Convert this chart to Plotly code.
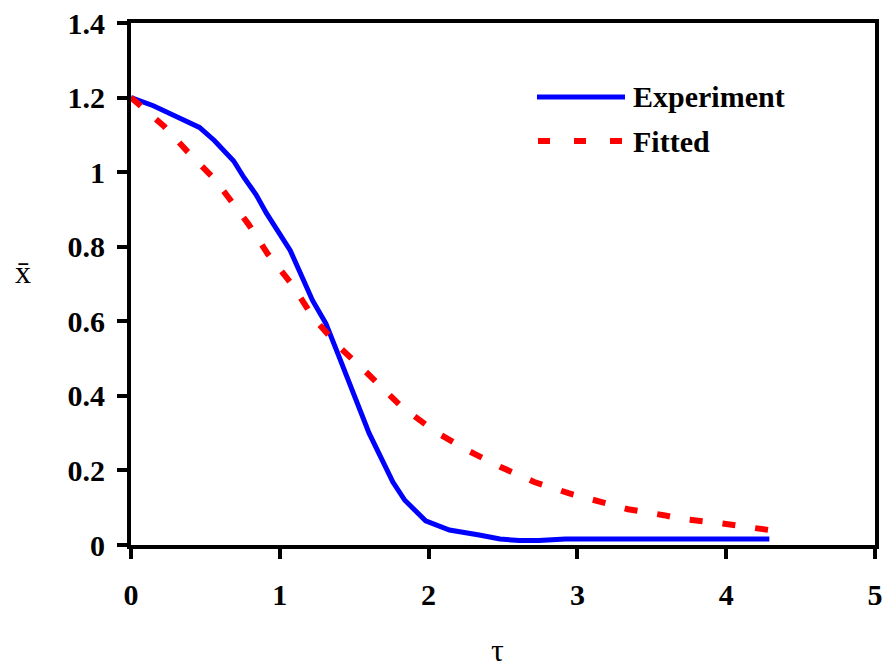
import plotly.graph_objects as go

# Data
exp_tau = [0.0, 0.15, 0.30, 0.46, 0.56, 0.69, 0.76, 0.84, 0.91, 1.07, 1.22, 1.31, 1.40,
           1.60, 1.76, 1.84, 1.98, 2.14, 2.34, 2.48, 2.61, 2.74, 2.92, 3.2, 3.6, 4.0, 4.29]
exp_x = [1.20, 1.178, 1.15, 1.12, 1.085, 1.03, 0.985, 0.94, 0.89, 0.79, 0.656, 0.594, 0.503,
         0.30, 0.169, 0.12, 0.065, 0.04, 0.027, 0.016, 0.012, 0.012, 0.016, 0.016, 0.016, 0.016, 0.016]

fit_tau = [0.0, 0.22, 0.38, 0.56, 0.64, 0.79, 0.92, 1.08, 1.23, 1.40, 1.59, 1.82, 2.06,
           2.28, 2.48, 2.71, 2.94, 3.11, 3.34, 3.58, 3.70, 3.95, 4.18, 4.29]
fit_x = [1.20, 1.124, 1.055, 0.982, 0.94, 0.86, 0.78, 0.70, 0.607, 0.531, 0.46, 0.37, 0.30,
         0.25, 0.21, 0.169, 0.139, 0.12, 0.096, 0.08, 0.07, 0.059, 0.048, 0.04]

x_ticks = [0, 1, 2, 3, 4, 5]
y_ticks = [0, 0.2, 0.4, 0.6, 0.8, 1.0, 1.2, 1.4]
y_ticklabels = ["0", "0.2", "0.4", "0.6", "0.8", "1", "1.2", "1.4"]

FONT = "Liberation Serif"

fig = go.Figure()
fig.add_trace(go.Scatter(x=exp_tau, y=exp_x, mode="lines", name="Experiment",
                         line=dict(color="#0000ff", width=5), showlegend=False))
fig.add_trace(go.Scatter(x=fit_tau, y=fit_x, mode="lines", name="Fitted",
                         line=dict(color="#ff0000", width=6, dash="13px,20px"), showlegend=False))

L, R, T, B = 131, 13, 23, 123
W, H = 888, 668
pw, ph = W - L - R, H - T - B

def px(xp):
    return (xp - L) / pw

def py(yp):
    return (H - B - yp) / ph

# manual legend
fig.add_shape(type="line", xref="paper", yref="paper", x0=px(537), x1=px(625), y0=py(97), y1=py(97),
              line=dict(color="#0000ff", width=5))
for a, b in [(538, 550), (574, 586), (610, 622)]:
    fig.add_shape(type="line", xref="paper", yref="paper", x0=px(a), x1=px(b), y0=py(141), y1=py(141),
                  line=dict(color="#ff0000", width=6))
fig.add_annotation(xref="paper", yref="paper", x=px(631), y=py(97), xanchor="left", yanchor="middle",
                   text="Experiment", showarrow=False,
                   font=dict(family=FONT, size=30, color="black", weight="bold"))
fig.add_annotation(xref="paper", yref="paper", x=px(631), y=py(141), xanchor="left", yanchor="middle",
                   text="Fitted", showarrow=False,
                   font=dict(family=FONT, size=30, color="black", weight="bold"))

# axis titles
fig.add_annotation(xref="paper", yref="paper", x=px(497), y=py(650), xanchor="center", yanchor="middle",
                   text="τ", showarrow=False, font=dict(family=FONT, size=32, color="black"))
fig.add_annotation(xref="paper", yref="paper", x=px(23), y=py(272), xanchor="center", yanchor="middle",
                   text="x\u0304", showarrow=False, font=dict(family=FONT, size=32, color="black"))

common = dict(showgrid=False, zeroline=False, showline=True, mirror=True, automargin=False,
              linecolor="black", linewidth=4, ticks="outside", ticklen=10, tickwidth=4,
              tickcolor="black", tickfont=dict(family=FONT, size=30, color="black", weight="bold"))
fig.update_xaxes(range=[0, 5], tickvals=x_ticks, ticktext=[str(v) for v in x_ticks],
                 ticklabelstandoff=10, **common)
fig.update_yaxes(range=[0, 1.4], tickvals=y_ticks, ticktext=y_ticklabels,
                 ticklabelstandoff=6, **common)

fig.update_layout(width=W, height=H, margin=dict(l=L, r=R, t=T, b=B),
                  paper_bgcolor="white", plot_bgcolor="white",
                  font=dict(family=FONT, color="black"))

fig.write_html("out.html")
